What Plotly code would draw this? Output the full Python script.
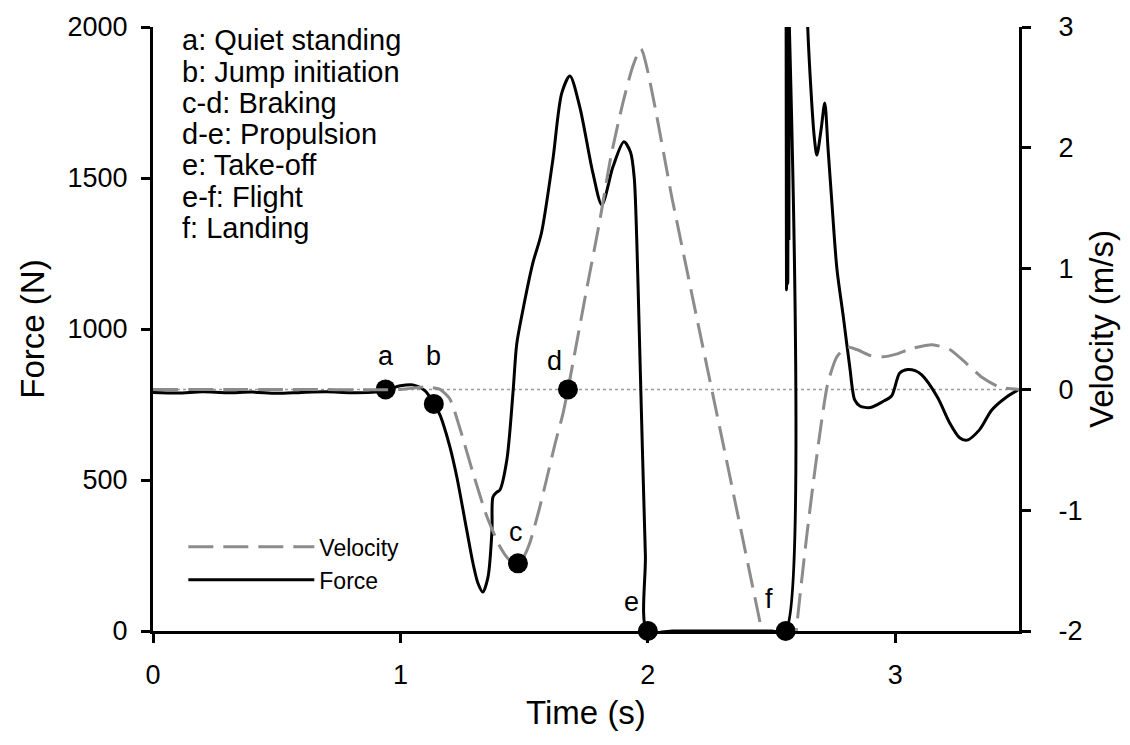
import plotly.graph_objects as go

# ---------------- data ----------------
force_t = [0.0, 0.1, 0.2, 0.3, 0.4, 0.5, 0.6, 0.7, 0.8, 0.9, 0.94, 1.0, 1.05, 1.1, 1.135,
           1.16, 1.172, 1.2, 1.228, 1.268, 1.293, 1.313, 1.333, 1.354, 1.37, 1.374, 1.39, 1.402,
           1.43, 1.455, 1.47, 1.495, 1.535, 1.57, 1.616, 1.652, 1.685, 1.725, 1.778, 1.814,
           1.859, 1.903, 1.93, 1.945, 1.955, 1.965, 1.978, 1.99, 1.998,
           2.1, 2.2, 2.3, 2.4, 2.5, 2.556,
           2.558, 2.5605, 2.563, 2.5655, 2.568, 2.570, 2.573, 2.58, 2.60, 2.625,
           2.646, 2.66, 2.672, 2.683, 2.70, 2.715, 2.728, 2.743, 2.764, 2.79, 2.816, 2.836,
           2.857, 2.90, 2.95, 2.985, 3.018, 3.05, 3.08, 3.107, 3.17, 3.22, 3.26, 3.29, 3.34,
           3.39, 3.45, 3.5]
force_N = [790, 788, 792, 789, 791, 787, 790, 792, 789, 791, 797, 812, 815, 795, 752,
           715, 688, 610, 510, 334, 225, 159, 129, 179, 334, 444, 460, 467,
           566, 790, 950, 1063, 1218, 1318, 1560, 1781, 1838, 1735, 1516, 1411,
           1537, 1620, 1585, 1500, 1300, 1000, 600, 250, 0,
           0, 0, 0, 0, 0, 0,
           2400, 1130, 2400, 1150, 2400, 1300, 2500, 2800, 3000, 2600,
           2000, 1780, 1640, 1576, 1660, 1748, 1600, 1427, 1200, 1040, 874, 765,
           745, 740, 760, 778, 854, 866, 862, 848, 775, 689, 640, 632, 666,
           732, 775, 800]

vel_t = [0.0, 0.5, 1.0, 1.1, 1.16, 1.2, 1.24, 1.293, 1.349, 1.402, 1.44, 1.475, 1.5, 1.523,
         1.56, 1.59, 1.625, 1.657, 1.677, 1.70, 1.75, 1.806, 1.85, 1.90, 1.94, 1.972,
         2.1, 2.2, 2.3, 2.4, 2.5, 2.557, 2.58, 2.60, 2.64, 2.67, 2.703, 2.727, 2.764,
         2.804, 2.844, 2.90, 2.95, 3.0, 3.07, 3.15, 3.22, 3.29, 3.35, 3.42, 3.5]
vel_ms = [0.0, 0.0, 0.0, 0.02, 0.0, -0.08, -0.32, -0.69, -1.05, -1.3, -1.41, -1.44, -1.38, -1.27,
          -1.0, -0.75, -0.45, -0.2, 0.0, 0.25, 0.8, 1.40, 1.92, 2.38, 2.68, 2.82,
          1.56, 0.57, -0.41, -1.40, -2.39, -2.95, -2.6, -2.0, -1.25, -0.75, -0.25, 0.05, 0.27,
          0.35, 0.33, 0.28, 0.27, 0.29, 0.34, 0.37, 0.33, 0.21, 0.10, 0.02, 0.0]

event_labels = ["a", "b", "c", "d", "e", "f"]
event_t = [0.94, 1.135, 1.475, 1.677, 2.0, 2.557]
event_val = [800, 752, -1.44, 0.0, 0, 0]
event_axis = ["force", "force", "velocity", "velocity", "force", "force"]

phase_text = ["a: Quiet standing", "b: Jump initiation", "c-d: Braking", "d-e: Propulsion",
              "e: Take-off", "e-f: Flight", "f: Landing"]

x_ticks = [0, 1, 2, 3]
force_ticks = [0, 500, 1000, 1500, 2000]
vel_ticks = [-2, -1, 0, 1, 2, 3]
vel_ticktext = ["-2", "-1", "0", "1", "2", "3"]

# ---------------- figure ----------------
FONT = "Liberation Sans, Arial, sans-serif"
fig = go.Figure()

fig.add_trace(go.Scatter(x=vel_t, y=vel_ms, yaxis="y2", mode="lines", name="Velocity",
                         line=dict(color="#8c8c8c", width=3, dash="25px,10px", shape="spline",
                                   smoothing=0.6)))
fig.add_trace(go.Scatter(x=force_t, y=force_N, mode="lines", name="Force",
                         line=dict(color="black", width=3, shape="spline", smoothing=0.8)))

# event markers
for ax_name, yref in (("force", "y"), ("velocity", "y2")):
    xs = [t for t, a in zip(event_t, event_axis) if a == ax_name]
    ys = [v for v, a in zip(event_val, event_axis) if a == ax_name]
    fig.add_trace(go.Scatter(x=xs, y=ys, yaxis=yref, mode="markers", showlegend=False,
                             cliponaxis=False,
                             marker=dict(color="black", size=20)))

label_shift = {"a": (0, 33), "b": (0, 48), "c": (-2, 31), "d": (-13, 28),
               "e": (-16, 29), "f": (-17, 32)}
for lab, t, v, a in zip(event_labels, event_t, event_val, event_axis):
    dx, dy = label_shift[lab]
    fig.add_annotation(x=t, y=v, xref="x", yref="y" if a == "force" else "y2",
                       text=lab, showarrow=False, xshift=dx, yshift=dy,
                       font=dict(size=27, color="black", family=FONT))

# phase description text
for i, txt in enumerate(phase_text):
    fig.add_annotation(x=0.031, y=0.978 - i * 0.0518, xref="paper", yref="paper",
                       text=txt, showarrow=False, xanchor="left", yanchor="middle",
                       font=dict(size=29, color="black", family=FONT))

# zero-velocity reference (dotted)
fig.add_shape(type="line", xref="paper", x0=0, x1=1, yref="y2", y0=0, y1=0,
              line=dict(color="#9a9a9a", width=1.5, dash="dot"), layer="below")

axis_common = dict(showline=True, linecolor="black", linewidth=3, ticks="outside",
                   ticklen=9, tickwidth=3, tickcolor="black", showgrid=False,
                   zeroline=False, automargin=False,
                   tickfont=dict(size=27, color="black", family=FONT))

fig.update_layout(
    width=1130, height=745,
    margin=dict(l=145, r=119, t=19, b=122),
    plot_bgcolor="white", paper_bgcolor="white",
    font=dict(family=FONT, color="black"),
    xaxis=dict(range=[0, 3.5], tickvals=x_ticks, ticklabelstandoff=9,
               title=dict(text="Time (s)", font=dict(size=33, family=FONT), standoff=12),
               **axis_common),
    yaxis=dict(range=[0, 2000], tickvals=force_ticks, ticklabelstandoff=8,
               title=dict(text="Force (N)", font=dict(size=33, family=FONT), standoff=13),
               **axis_common),
    yaxis2=dict(range=[-2, 3], tickvals=vel_ticks, ticktext=vel_ticktext, overlaying="y",
                side="right", anchor="x", ticklabelstandoff=22,
                title=dict(text="Velocity (m/s)", font=dict(size=33, family=FONT), standoff=9),
                **axis_common),
    legend=dict(x=0.035, y=0.112, xanchor="left", yanchor="middle", bgcolor="rgba(0,0,0,0)",
                font=dict(size=23, family=FONT, color="black"), itemwidth=126,
                tracegroupgap=0),
)

fig.write_html("out.html")
